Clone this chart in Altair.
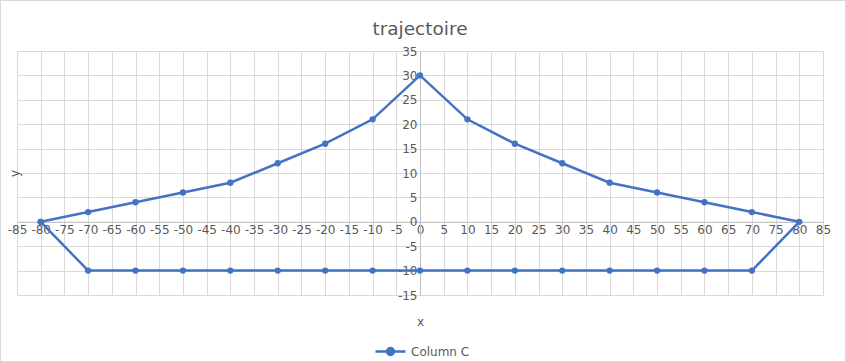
import altair as alt
import pandas as pd

series_name = "Column C"
x_path = [-80, -70, -60, -50, -40, -30, -20, -10, 0, 10, 20, 30, 40, 50, 60, 70, 80,
          70, 60, 50, 40, 30, 20, 10, 0, -10, -20, -30, -40, -50, -60, -70, -80]
y_path = [0, 2, 4, 6, 8, 12, 16, 21, 30, 21, 16, 12, 8, 6, 4, 2, 0,
          -10, -10, -10, -10, -10, -10, -10, -10, -10, -10, -10, -10, -10, -10, -10, 0]
x_ticks = list(range(-85, 90, 5))
y_ticks = list(range(-15, 40, 5))

df = pd.DataFrame({"x": x_path, "y": y_path, "i": list(range(len(x_path))), "s": series_name})

W, H = 806, 244
x_dom = [-85, 85]
y_dom = [-15, 35]
x_off = -W * (0 - x_dom[0]) / (x_dom[1] - x_dom[0])
y_off = -H * (0 - y_dom[0]) / (y_dom[1] - y_dom[0])

grey = "#595959"
blue = "#4472c4"
font = "DejaVu Sans"
lab = "toString(datum.value)"

xenc = alt.X("x:Q", scale=alt.Scale(domain=x_dom, nice=False, zero=False),
             axis=alt.Axis(values=x_ticks, title="x", offset=y_off, labelExpr=lab,
                           grid=True, ticks=False, labelFlush=False, labelOverlap=False,
                           labelBound=False, labelPadding=3, domainColor="#bfbfbf",
                           titleY=100, titleBaseline="middle", titleFontWeight="normal"))
yenc = alt.Y("y:Q", scale=alt.Scale(domain=y_dom, nice=False, zero=False),
             axis=alt.Axis(values=y_ticks, title="y", offset=x_off, labelExpr=lab,
                           grid=True, ticks=False, labelFlush=False, labelOverlap=False,
                           labelBound=False, labelPadding=3, domainColor="#bfbfbf",
                           titleX=-406, titleBaseline="middle", titleFontWeight="normal"))

color = alt.Color("s:N", scale=alt.Scale(domain=[series_name], range=[blue]),
                  legend=alt.Legend(title=None, orient="none", legendX=357, legendY=284,
                                    symbolType="M-1,0L1,0M-0.23,0A0.23,0.23,0,1,1,0.23,0A0.23,0.23,0,1,1,-0.23,0Z",
                                    symbolSize=900, symbolStrokeWidth=2.5,
                                    symbolStrokeColor=blue, symbolFillColor=blue,
                                    labelFontSize=12, labelColor=grey, labelFont=font))

line = alt.Chart(df).mark_line(color=blue, strokeWidth=2.5).encode(
    x=xenc, y=yenc, order=alt.Order("i:Q"))
pts = alt.Chart(df).mark_point(filled=True, size=40, opacity=1).encode(
    x=xenc, y=yenc, color=color)

frame = alt.Chart(df).mark_rect(fill=None, stroke="#d9d9d9", strokeWidth=1).encode(
    x=alt.value(-16.5), x2=alt.value(828.5), y=alt.value(-50.5), y2=alt.value(310.5))

chart = alt.layer(frame, line, pts).properties(
    width=W, height=H,
    title=alt.TitleParams("trajectoire", fontSize=18.5, font=font, color=grey,
                          fontWeight="normal", anchor="middle", offset=0,
                          baseline="alphabetic", dy=53.5),
    autosize=alt.AutoSizeParams(type="none"),
    padding={"left": 17, "top": 51, "right": 23, "bottom": 67},
).configure_axis(
    gridColor="#d9d9d9", gridWidth=1, labelColor=grey, labelFont=font, labelFontSize=12,
    titleColor=grey, titleFont=font, titleFontSize=12,
).configure_view(stroke=None)

chart.save("out.html", embed_options={"renderer": "svg", "actions": False})
